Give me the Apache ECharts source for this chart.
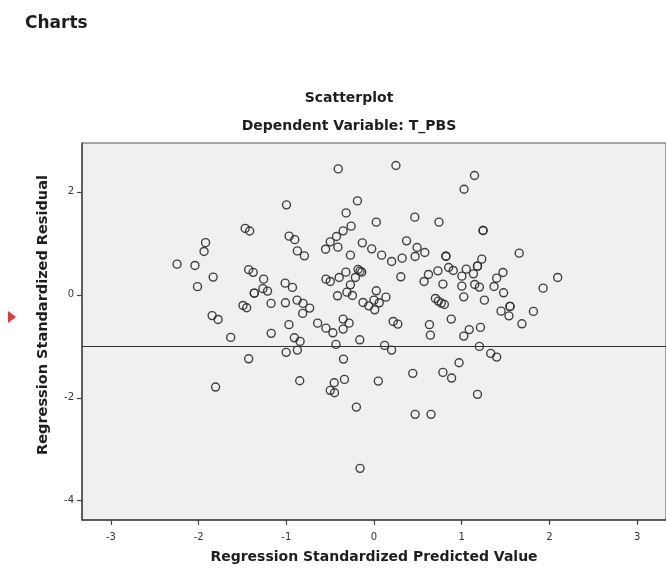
<!DOCTYPE html>
<html>
<head>
<meta charset="utf-8">
<script src="https://cdn.jsdelivr.net/npm/echarts@6/dist/echarts.min.js"></script>
<style>
html,body{margin:0;padding:0;background:#fff;}
#c{width:666px;height:569px;}
</style>
</head>
<body>
<div id="c"></div>
<script>
// Regression Standardized Predicted Value
var predicted = [
-1.469,-1.418,-1.921,-1.938,-2.246,-2.042,-1.834,-2.013,-1.429,-1.378,
-1.259,-1.267,-1.214,-1.365,-1.365,-1.174,-1.494,-1.452,-1.846,-1.778,
-1.172,-1.634,-1.429,-1.807,
-0.408,0.250,1.027,-0.998,-0.189,-0.318,0.026,0.465,0.741,-0.261,
-0.352,-0.428,-0.499,-0.552,-0.412,-0.968,-0.904,-0.874,-0.794,-0.133,
-0.026,-0.269,0.087,0.371,0.491,0.579,0.469,0.321,0.201,0.820,0.820,
-0.182,-0.159,-0.140,0.851,0.904,1.052,0.729,0.621,0.571,0.786,
1.002,1.002,1.024,0.306,-0.321,-0.397,-0.212,-0.548,-0.499,-0.269,
-0.309,-0.246,-0.416,0.026,0.136,0.000,0.060,-0.125,-0.060,0.008,
-1.013,-0.930,-1.010,-0.877,-0.809,-0.734,-0.813,0.700,0.734,0.768,
0.802,0.881,0.632,0.219,0.272,-0.352,-0.284,-0.643,-0.970,
1.146,1.244,1.244,1.656,1.229,1.180,1.180,1.134,1.149,1.202,1.259,
1.471,1.399,1.369,1.478,2.095,1.929,1.551,1.551,1.449,1.539,1.818,
1.687,1.086,1.214,
-0.548,-0.469,-0.352,-0.908,-0.843,-0.874,-1.002,-0.434,-0.162,0.121,
0.201,0.643,1.024,-0.348,0.970,0.442,0.786,0.885,-0.847,-0.454,
-0.337,0.049,-0.499,-0.450,-0.201,0.469,0.650,-0.159,1.202,1.331,
1.399,1.180
];
// Regression Standardized Residual
var residual = [
1.291,1.241,1.014,0.843,0.596,0.571,0.344,0.159,0.489,0.437,
0.305,0.120,0.072,0.033,0.033,-0.167,-0.206,-0.252,-0.404,-0.478,
-0.748,-0.827,-1.243,-1.792,
2.447,2.513,2.052,1.748,1.825,1.592,1.412,1.509,1.412,1.334,
1.243,1.134,1.029,0.887,0.926,1.140,1.072,0.854,0.757,1.010,
0.893,0.771,0.771,1.049,0.920,0.823,0.746,0.713,0.649,0.751,0.751,
0.493,0.460,0.441,0.532,0.474,0.499,0.466,0.396,0.260,0.208,
0.363,0.169,-0.039,0.350,0.441,0.338,0.338,0.305,0.260,0.194,
0.052,-0.012,-0.019,0.078,-0.045,-0.103,-0.155,-0.148,-0.214,-0.291,
0.227,0.144,-0.155,-0.103,-0.167,-0.258,-0.361,-0.070,-0.122,-0.161,
-0.186,-0.472,-0.579,-0.517,-0.569,-0.472,-0.550,-0.550,-0.579,
2.318,1.250,1.250,0.810,0.693,0.557,0.557,0.408,0.202,0.150,-0.103,
0.435,0.324,0.163,0.039,0.338,0.130,-0.225,-0.225,-0.317,-0.408,-0.322,
-0.563,-0.676,-0.633,
-0.647,-0.738,-0.666,-0.835,-0.905,-1.074,-1.118,-0.963,-0.874,-0.983,
-1.074,-0.783,-0.802,-1.249,-1.320,-1.526,-1.507,-1.617,-1.670,-1.709,
-1.643,-1.676,-1.856,-1.903,-2.181,-2.322,-2.322,-3.371,-1.002,-1.138,
-1.210,-1.934
];
var xTicks = [-3, -2, -1, 0, 1, 2, 3];
var yTicks = [-4, -2, 0, 2];
var refLineY = -1;

var points = predicted.map(function (v, i) { return [v, residual[i]]; });

var chart = echarts.init(document.getElementById('c'), null, {renderer: 'canvas'});
var font = 'DejaVu Sans';
chart.setOption({
  animation: false,
  backgroundColor: '#ffffff',
  graphic: [
    {type: 'text', left: 25, top: 15, style: {text: 'Charts', font: 'bold 17px "DejaVu Sans"', fill: '#1e1e1e'}},
    {type: 'text', x: 349, y: 98, style: {text: 'Scatterplot', font: 'bold 14px "DejaVu Sans"', fill: '#1e1e1e', align: 'center', verticalAlign: 'middle'}},
    {type: 'text', x: 349, y: 126, style: {text: 'Dependent Variable: T_PBS', font: 'bold 14px "DejaVu Sans"', fill: '#1e1e1e', align: 'center', verticalAlign: 'middle'}},
    {type: 'polygon', shape: {points: [[8, 311], [16, 317], [8, 323]]}, style: {fill: '#e0393e'}}
  ],
  grid: {
    left: 82, right: -4, top: 143, bottom: 49,
    show: true, backgroundColor: '#f0f0f0', borderColor: '#555', borderWidth: 1,
    containLabel: false
  },
  xAxis: {
    type: 'value', min: -3.33, max: 3.33,
    name: 'Regression Standardized Predicted Value',
    nameLocation: 'middle', nameGap: 30,
    nameTextStyle: {fontFamily: font, fontWeight: 'bold', fontSize: 14, color: '#1e1e1e'},
    axisLine: {show: true, onZero: false, lineStyle: {color: '#444', width: 1.5}},
    axisTick: {show: true, length: 5, customValues: xTicks, lineStyle: {color: '#444', width: 1.2}},
    axisLabel: {customValues: xTicks, fontFamily: font, fontSize: 10, color: '#333', margin: 12},
    splitLine: {show: false}
  },
  yAxis: {
    type: 'value', min: -4.375, max: 2.95,
    name: 'Regression Standardized Residual',
    nameLocation: 'middle', nameGap: 31, nameRotate: 90,
    nameTextStyle: {fontFamily: font, fontWeight: 'bold', fontSize: 14.5, color: '#1e1e1e', padding: [0, 0, 0, 33]},
    axisLine: {show: true, onZero: false, lineStyle: {color: '#444', width: 1.5}},
    axisTick: {show: true, length: 5, customValues: yTicks, lineStyle: {color: '#444', width: 1.2}},
    axisLabel: {customValues: yTicks, fontFamily: font, fontSize: 10, color: '#333', margin: 8},
    splitLine: {show: false}
  },
  series: [{
    type: 'scatter',
    data: points,
    symbol: 'circle',
    symbolSize: 8,
    itemStyle: {color: 'rgba(0,0,0,0)', borderColor: '#2e2e2e', borderWidth: 1.4, opacity: 0.9},
    markLine: {
      silent: true, symbol: ['none', 'none'], label: {show: false},
      lineStyle: {type: 'solid', color: '#333', width: 1.2},
      data: [{yAxis: refLineY}]
    }
  }]
});
</script>
</body>
</html>
